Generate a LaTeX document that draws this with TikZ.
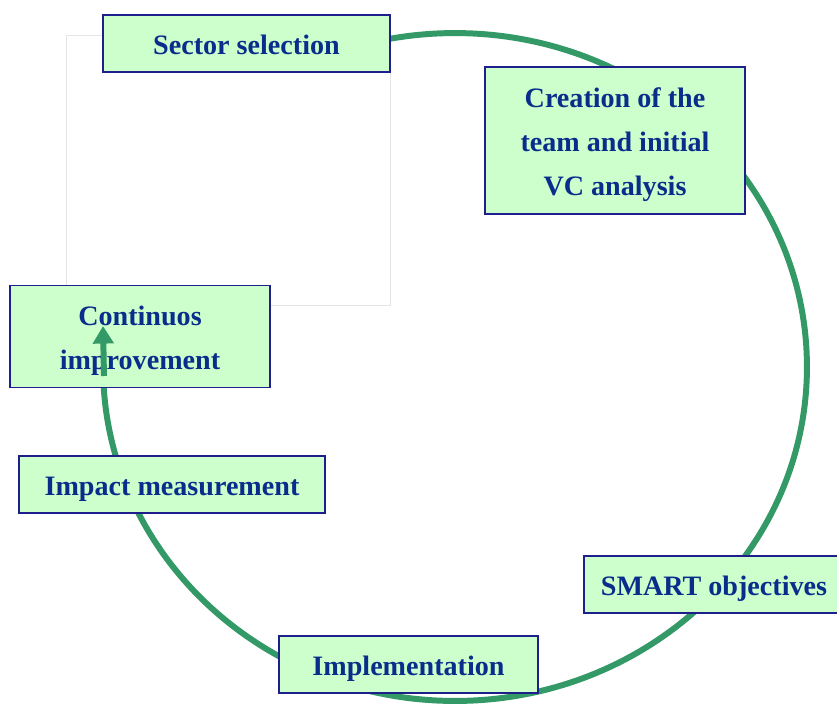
\documentclass[tikz,border=0pt]{standalone}
\usepackage{fontspec}
\setmainfont{Liberation Serif}
\usetikzlibrary{arrows.meta}
\definecolor{ringgreen}{RGB}{51,153,102}
\definecolor{boxfill}{RGB}{204,255,204}
\definecolor{boxline}{RGB}{30,30,140}
\definecolor{boxtext}{RGB}{10,45,140}
\newcommand{\stagestrut}{\rule[-3.5pt]{0pt}{19.5pt}}
\tikzset{
  stage/.style={draw=boxline, line width=1pt, fill=boxfill, text=boxtext,
    font=\fontsize{16}{25}\selectfont\bfseries, align=center, inner sep=0pt},
  ring/.style={draw=ringgreen, line width=3.4pt},
}

\begin{document}
\begin{tikzpicture}[x=0.02cm,y=-0.02cm]
            \useasboundingbox (0,0) rectangle (837,704);
            % the cycle
            \draw[ring] (455,367) ellipse [x radius=7.04cm, y radius=6.68cm];
            \draw[fill=white, draw=black!10, line width=0.4pt] (66,35) rectangle (390,305);
            % stages
            \node[stage, minimum width=5.74cm, minimum height=1.14cm] (sector) at (246.5,43.5) {\stagestrut Sector selection};
            \node[stage, minimum width=5.2cm, minimum height=2.94cm] (team) at (615,140.5) {\stagestrut Creation of the\\team and initial\\VC analysis};
            \node[stage, minimum width=5.2cm, minimum height=1.14cm] (smart) at (714,584.5) {\stagestrut SMART objectives};
            \node[stage, minimum width=5.18cm, minimum height=1.14cm] (impl) at (408.5,664.5) {\stagestrut Implementation};
            \node[stage, minimum width=6.12cm, minimum height=1.14cm] (impact) at (172,484.5) {\stagestrut Impact measurement};
            \node[stage, minimum width=5.2cm, minimum height=2.04cm] (cont) at (140,336.5) {\stagestrut Continuos\\improvement};
            % arrow head of the cycle
            \coordinate (tail) at (104,376);
            \coordinate (tip) at (103,326);
            \draw[ring, -{Triangle[width=11.5pt,length=10pt]}] (tail) -- (tip);
        \end{tikzpicture}
\end{document}
